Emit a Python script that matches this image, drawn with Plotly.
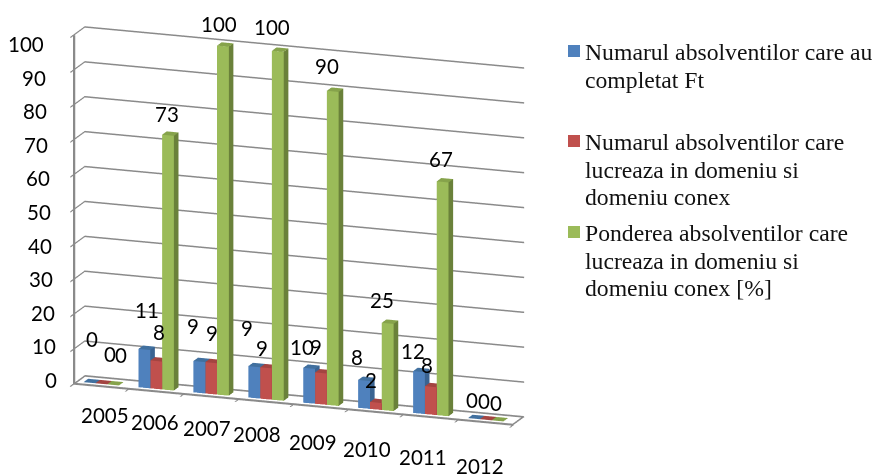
import plotly.graph_objects as go

W, H = 879, 475
years = ["2005", "2006", "2007", "2008", "2009", "2010", "2011", "2012"]
completat = [0, 11, 9, 9, 10, 8, 12, 0]
lucreaza = [0, 8, 9, 9, 9, 2, 8, 0]
ponderea = [0, 73, 100, 100, 90, 25, 67, 0]
series_lines = [
    ["Numarul absolventilor care au", "completat Ft"],
    ["Numarul absolventilor care", "lucreaza in domeniu si", "domeniu conex"],
    ["Ponderea absolventilor care", "lucreaza in domeniu si", "domeniu conex [%]"],
]
z_ticks = [0, 10, 20, 30, 40, 50, 60, 70, 80, 90, 100]

colors = [("#4F81BD", "#3A6391", "#41709F"),
          ("#C0504D", "#8F3C3A", "#A34441"),
          ("#9BBB59", "#6A813A", "#86A34B")]
BAR_W = 0.215
BAR_SHIFT = -0.06
Y0, Y1 = 0.3, 0.72

# pixel nudges of the text labels, per series then per category
label_dx = [[-3, -3, -12, -13, -13, -13, -12, -7],
            [3, -3, -5, -10, -10, -10, -9, -7],
            [2, -6, -9, -11, -11, -11, -7, -7]]
label_up = [[42, 38, 34, 37, 20, 22, 19, 17],
            [29, 28, 28, 19, 25, 21, 20, 17],
            [29, 20, 21, 23, 24, 22, 22, 17]]
year_dx = [4, -1, -4, -9, -8, -9, -8, -6]
year_up = [28, 30, 31, 32, 35, 37, 40, 43]

def bar_mesh(values, slot, cols, name):
    front, side, top = cols
    xs, ys, zs, ii, jj, kk, fc = [], [], [], [], [], [], []
    for c, v in enumerate(values):
        x0 = c + BAR_SHIFT + (slot - 1.5) * BAR_W
        x1 = x0 + BAR_W
        n = len(xs)
        xs += [x0, x1, x1, x0, x0, x1, x1, x0]
        ys += [Y0, Y0, Y1, Y1, Y0, Y0, Y1, Y1]
        zs += [0, 0, 0, 0, v, v, v, v]
        for a, b, d, col in [(0, 1, 5, front), (0, 5, 4, front),
                             (1, 2, 6, side), (1, 6, 5, side),
                             (4, 5, 6, top), (4, 6, 7, top)]:
            ii.append(n + a); jj.append(n + b); kk.append(n + d); fc.append(col)
    return go.Mesh3d(x=xs, y=ys, z=zs, i=ii, j=jj, k=kk, facecolor=fc, name=name,
                     flatshading=True, hoverinfo="skip",
                     lighting=dict(ambient=1, diffuse=0, specular=0, fresnel=0, roughness=1))

fig = go.Figure()
all_series = [completat, lucreaza, ponderea]
for slot, (vals, cols, nm) in enumerate(zip(all_series, colors, series_lines)):
    fig.add_trace(bar_mesh(vals, slot, cols, " ".join(nm)))

n = len(years)
L, R = -0.49, n - 0.51
GREY = "#8A8A8A"
fig.add_trace(go.Scatter3d(x=[L, R, R, L, L], y=[0.02, 0.02, 0.98, 0.98, 0.02], z=[0.1] * 5,
                           mode="lines", line=dict(color=GREY, width=3), hoverinfo="skip", showlegend=False))
fig.add_trace(go.Scatter3d(x=[L, L], y=[0.02, 0.02], z=[0.1, 99.9],
                           mode="lines", line=dict(color=GREY, width=3), hoverinfo="skip", showlegend=False))

annots = []
label_font = dict(family="Lato", size=20.5, color="#000")
for c, yr in enumerate(years):
    annots.append(dict(x=c, y=0, z=0, text=yr, showarrow=False, xshift=year_dx[c], yshift=-year_up[c], font=label_font))
for t in z_ticks:
    annots.append(dict(x=-0.5, y=0, z=t, text=str(t), showarrow=False, xanchor="right",
                       xshift=-14.5 - 0.13 * t, yshift=4 - 0.13 * t, font=label_font))
for s, vals in enumerate(all_series):
    for c, v in enumerate(vals):
        annots.append(dict(x=c + (s - 1) * BAR_W, y=0.5, z=v, text=str(v), showarrow=False,
                           xshift=label_dx[s][c], yshift=label_up[s][c], font=label_font))

axis_common = dict(showbackground=False, zeroline=False, showspikes=False, title="")
D = 1.25
ZOOM = 1.6
fig.update_layout(
    width=W, height=H, margin=dict(l=0, r=0, t=0, b=0), showlegend=False, paper_bgcolor="white",
    scene=dict(
        domain=dict(x=[0, 598 / W], y=[23 / H, 1]),
        aspectmode="manual", aspectratio=dict(x=1.2777 * 1.01 * ZOOM, y=0.0902 * ZOOM, z=ZOOM),
        camera=dict(projection=dict(type="orthographic"),
                    eye=dict(x=0.3249 * D, y=-0.9089 * D, z=0.2617 * D),
                    up=dict(x=0, y=0, z=1), center=dict(x=0, y=0, z=0)),
        xaxis=dict(range=[-0.5, n - 0.5], tickvals=[i - 0.5 for i in range(n + 1)], ticktext=[""] * (n + 1),
                   showticklabels=True, showgrid=False, showline=True, linecolor=GREY, linewidth=3,
                   ticks="outside", ticklen=10, tickcolor=GREY, tickwidth=3, **axis_common),
        yaxis=dict(range=[0, 1], showticklabels=False, showgrid=False, showline=False, ticks="", **axis_common),
        zaxis=dict(range=[0, 100], tickvals=z_ticks, ticktext=[""] * len(z_ticks), showgrid=True, gridcolor=GREY, gridwidth=3,
                   showticklabels=True, showline=True, linecolor=GREY, linewidth=3,
                   ticks="outside", ticklen=10, tickcolor=GREY, tickwidth=3, **axis_common),
        annotations=annots,
    ),
)
square_tops = [45, 135, 226]
first_line_y = [52, 142, 233]
LINE = 27.7
shapes, paper = [], []
for top, y1, (f, _, _), lines in zip(square_tops, first_line_y, colors, series_lines):
    shapes.append(dict(type="rect", xref="paper", yref="paper", x0=568 / W, x1=580 / W, y0=1 - top / H, y1=1 - (top + 12) / H,
                       fillcolor=f, line=dict(width=0)))
    for li, line in enumerate(lines):
        paper.append(dict(xref="paper", yref="paper", x=585 / W, y=1 - (y1 + li * LINE) / H, text=line, align="left",
                          showarrow=False, xanchor="left", yanchor="middle", xshift=-2,
                          font=dict(family="Liberation Serif", size=23.7, color="#111")))
fig.update_layout(shapes=shapes, annotations=paper)
fig.write_html("out.html", post_script="document.body.style.margin='0';", config={"displayModeBar": False})
